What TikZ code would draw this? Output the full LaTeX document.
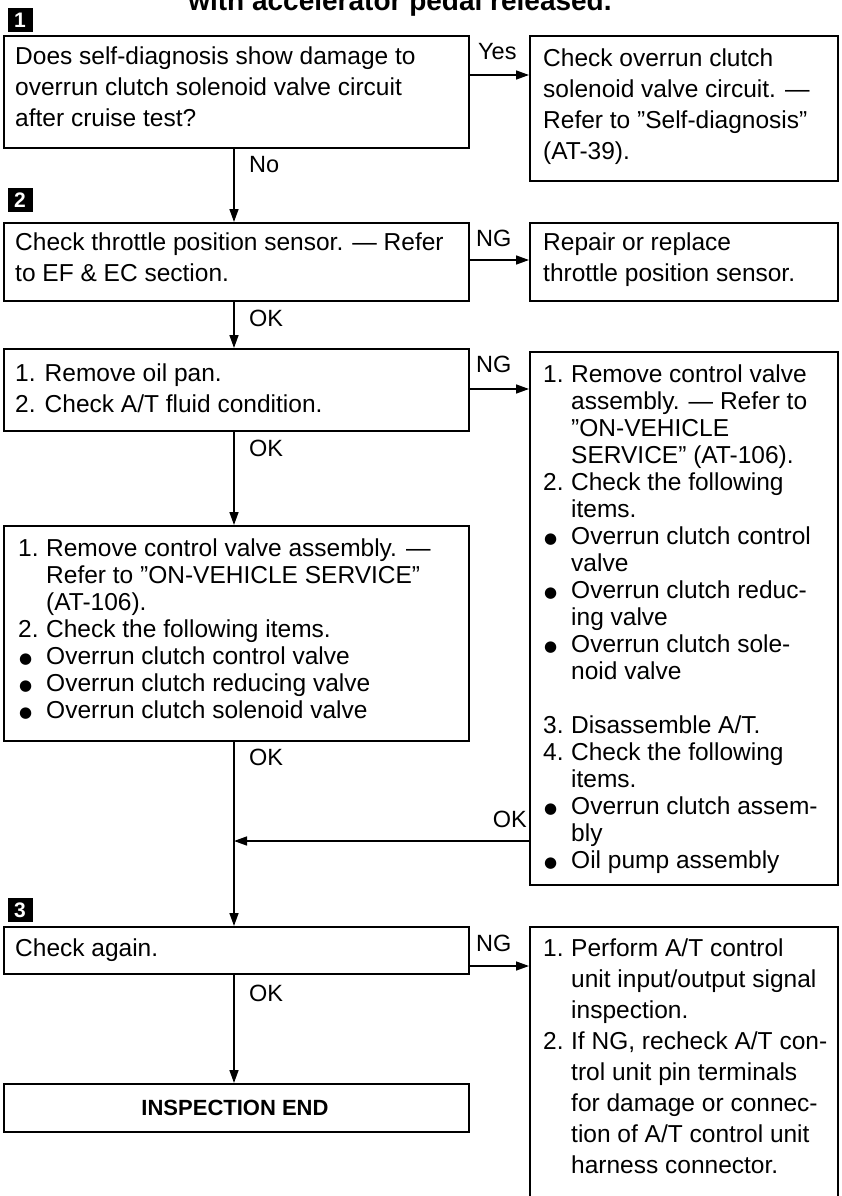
\documentclass[tikz,border=0pt]{standalone}
\usepackage{fontspec}
\setmainfont{Liberation Sans}
\newfontfamily\dejavu{DejaVu Sans}
\usetikzlibrary{arrows.meta}
\newcommand\bul{\makebox[28pt][l]{\hspace{1pt}\raisebox{0.5pt}{\dejavu\fontsize{15}{15}\selectfont ●}}}
\newcommand\num[1]{\makebox[28pt][l]{#1}}
\newcommand\ind{\hspace*{28pt}}
\newcommand\stt{\rule{0pt}{20pt}}
\tikzset{
  box/.style={draw, line width=1.8pt, inner sep=0pt, anchor=north west},
  txt/.style={anchor=north west, inner sep=0pt, align=left, font=\fontsize{24.5}{31}\selectfont},
  txtb/.style={anchor=north west, inner sep=0pt, align=left, font=\fontsize{24.5}{27}\selectfont},
  lbl/.style={inner sep=0pt, font=\fontsize{23.5}{23.5}\selectfont},
  arr/.style={line width=1.5pt, -{Triangle[length=13pt,width=9pt]}},
  marker/.style={fill=black, text=white, inner sep=0pt, minimum width=25pt, minimum height=24pt, font=\bfseries\fontsize{21}{21}\selectfont},
}
\begin{document}
\begin{tikzpicture}[x=1pt,y=-1pt]
\useasboundingbox[fill=white] (0,0) rectangle (842,1196);
% title
\node[anchor=base, inner sep=0pt, font=\bfseries\fontsize{28}{28}\selectfont] (title) at (400,11) {with accelerator pedal released.};
% markers
\node[marker] (m1) at (20,20) {1};
\node[marker] (m2) at (20,200) {2};
\node[marker] (m3) at (20,910) {3};
% boxes
\node[box, minimum width=465pt, minimum height=112pt] (b1) at (3,35) {};
\node[box, minimum width=308pt, minimum height=145pt] (bY) at (529,35) {};
\node[box, minimum width=465pt, minimum height=78pt] (b2) at (3,222) {};
\node[box, minimum width=308pt, minimum height=78pt] (bR2) at (529,222) {};
\node[box, minimum width=465pt, minimum height=82pt] (b3) at (3,348) {};
\node[box, minimum width=308pt, minimum height=533pt] (bBig) at (529,351) {};
\node[box, minimum width=465pt, minimum height=215pt] (b4) at (3,525) {};
\node[box, minimum width=465pt, minimum height=47pt] (b5) at (3,926) {};
\node[box, minimum width=308pt, minimum height=290pt] (bR5) at (529,926) {};
\node[box, minimum width=465pt, minimum height=48pt] (bEnd) at (3,1083) {};
% texts
\node[txt] (t1) at (15,44) {\stt Does self-diagnosis show damage to\\overrun clutch solenoid valve circuit\\after cruise test?};
\node[txt] (tY) at (543,46) {\stt Check overrun clutch\\solenoid valve circuit. —\\Refer to ''Self-diagnosis''\\(AT-39).};
\node[txt] (t2) at (15,230) {\stt Check throttle position sensor. — Refer\\to EF \& EC section.};
\node[txt] (tR2) at (543,230) {\stt Repair or replace\\throttle position sensor.};
\node[txt] (t3) at (15,361) {\stt 1. Remove oil pan.\\2. Check A/T fluid condition.};
\node[txtb] (tBig) at (543,362) {\stt\num{1.}Remove control valve\\
\ind assembly. — Refer to\\
\ind ''ON-VEHICLE\\
\ind SERVICE'' (AT-106).\\
\num{2.}Check the following\\
\ind items.\\
\bul Overrun clutch control\\
\ind valve\\
\bul Overrun clutch reduc-\\
\ind ing valve\\
\bul Overrun clutch sole-\\
\ind noid valve\\
\mbox{}\\
\num{3.}Disassemble A/T.\\
\num{4.}Check the following\\
\ind items.\\
\bul Overrun clutch assem-\\
\ind bly\\
\bul Oil pump assembly};
\node[txtb] (t4) at (18,536) {\stt\num{1.}Remove control valve assembly. —\\
\ind Refer to ''ON-VEHICLE SERVICE''\\
\ind (AT-106).\\
\num{2.}Check the following items.\\
\bul Overrun clutch control valve\\
\bul Overrun clutch reducing valve\\
\bul Overrun clutch solenoid valve};
\node[txt] (t5) at (15,936) {\stt Check again.};
\node[txt] (tR5) at (543,936) {\stt\num{1.}Perform A/T control\\
\ind unit input/output signal\\
\ind inspection.\\
\num{2.}If NG, recheck A/T con-\\
\ind trol unit pin terminals\\
\ind for damage or connec-\\
\ind tion of A/T control unit\\
\ind harness connector.};
\node[anchor=base, inner sep=0pt, font=\bfseries\fontsize{22}{22}\selectfont] (tEnd) at (235,1115) {INSPECTION END};
% labels
\node[lbl, anchor=west] (lYes) at (478,52) {Yes};
\node[lbl, anchor=west] (lNo) at (249,165) {No};
\node[lbl, anchor=west] (lNG2) at (476,238) {NG};
\node[lbl, anchor=west] (lOK2) at (249,318) {OK};
\node[lbl, anchor=west] (lNG3) at (476,364) {NG};
\node[lbl, anchor=west] (lOK3) at (249,448) {OK};
\node[lbl, anchor=west] (lOK4) at (249,757) {OK};
\node[lbl, anchor=east] (lOKb) at (527,819) {OK};
\node[lbl, anchor=west] (lNG5) at (476,943) {NG};
\node[lbl, anchor=west] (lOK5) at (249,993) {OK};
% connectors
\coordinate (vx) at (234,0);
\coordinate (h1) at (0,75);
\coordinate (h2) at (0,260);
\coordinate (h3) at (0,389);
\coordinate (h4) at (0,841);
\coordinate (h5) at (0,966);
\draw[arr] (vx |- b1.south) -- (vx |- b2.north);
\draw[arr] (vx |- b2.south) -- (vx |- b3.north);
\draw[arr] (vx |- b3.south) -- (vx |- b4.north);
\draw[arr] (vx |- b4.south) -- (vx |- b5.north);
\draw[arr] (vx |- b5.south) -- (vx |- bEnd.north);
\draw[arr] (h1 -| b1.east) -- (h1 -| bY.west);
\draw[arr] (h2 -| b2.east) -- (h2 -| bR2.west);
\draw[arr] (h3 -| b3.east) -- (h3 -| bBig.west);
\draw[arr] (h4 -| bBig.west) -- (h4 -| vx);
\draw[arr] (h5 -| b5.east) -- (h5 -| bR5.west);
\end{tikzpicture}
\end{document}
